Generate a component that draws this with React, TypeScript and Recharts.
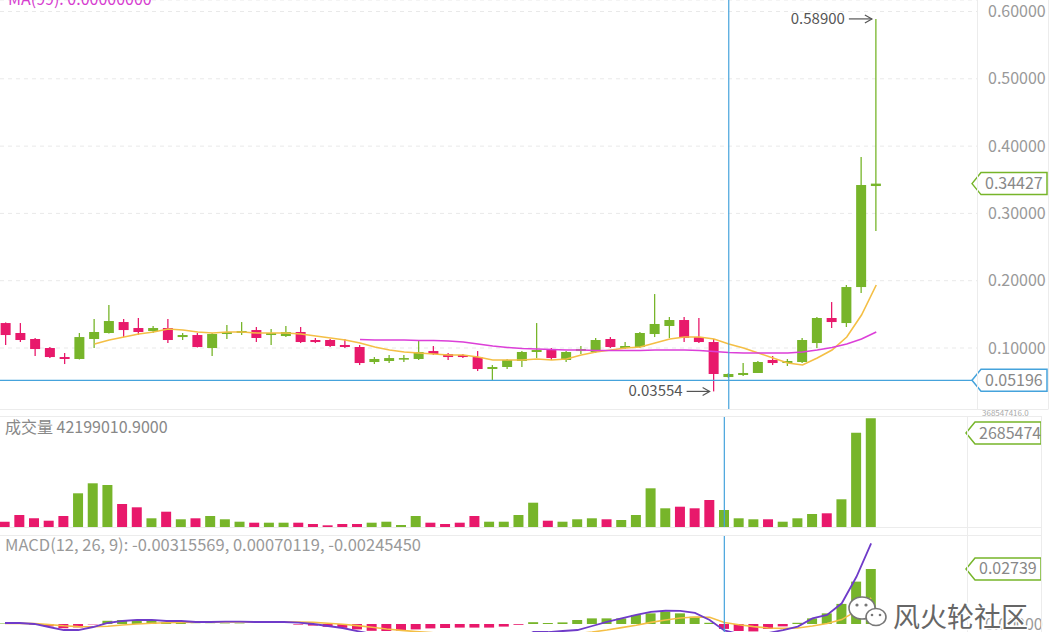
import { Bar, Cell, ComposedChart, Line, ReferenceLine, XAxis, YAxis, CartesianGrid } from "recharts";

const GREEN = "#77b52a";
const PINK = "#e8196b";
const BLUE = "#45a3dc";
const GRID = "#e9e9e9";
const FONT = "'Noto Sans CJK SC', 'Noto Sans', sans-serif";

// one candle per period, index 0..59
const opens = [
  0.1371, 0.1223, 0.1134, 0.1, 0.0866, 0.0837, 0.1134, 0.1223, 0.1386, 0.1297,
  0.1253, 0.1297, 0.1163, 0.1193, 0.1, 0.1208, 0.1223, 0.1267, 0.1193, 0.1178,
  0.1238, 0.1119, 0.1119, 0.1045, 0.1015, 0.0792, 0.0807, 0.0837, 0.0837, 0.0955,
  0.0911, 0.0896, 0.0866, 0.0688, 0.0718, 0.0807, 0.0941, 0.097, 0.0822, 0.0955,
  0.0941, 0.1134, 0.1, 0.1015, 0.1208, 0.1327, 0.1416, 0.1163, 0.1089, 0.0569,
  0.0599, 0.0629, 0.0822, 0.0777, 0.0792, 0.1074, 0.1446, 0.1371, 0.1906, 0.3407,
];
const highs = [
  0.138, 0.1371, 0.1149, 0.1015, 0.0926, 0.1223, 0.1431, 0.1639, 0.1431, 0.1446,
  0.1327, 0.1431, 0.1223, 0.1223, 0.1223, 0.1342, 0.1386, 0.1312, 0.1282, 0.1327,
  0.1312, 0.1149, 0.1134, 0.1134, 0.1045, 0.0866, 0.0896, 0.0896, 0.1104, 0.103,
  0.0926, 0.0911, 0.0955, 0.0747, 0.0837, 0.0955, 0.1371, 0.1, 0.0955, 0.103,
  0.1149, 0.1163, 0.1089, 0.1238, 0.1802, 0.1461, 0.1461, 0.1446, 0.1134, 0.0629,
  0.0777, 0.0807, 0.0881, 0.0837, 0.1149, 0.1461, 0.1683, 0.1936, 0.3838, 0.589,
];
const lows = [
  0.1045, 0.1089, 0.0881, 0.0851, 0.0762, 0.083, 0.1, 0.1215, 0.1163, 0.1193,
  0.1223, 0.1074, 0.1119, 0.1008, 0.0881, 0.1134, 0.1193, 0.1089, 0.1045, 0.1163,
  0.1074, 0.1074, 0.1015, 0.1, 0.0747, 0.0762, 0.0777, 0.0792, 0.0822, 0.0896,
  0.0822, 0.0851, 0.0658, 0.0525, 0.0688, 0.0718, 0.0851, 0.0822, 0.0792, 0.0911,
  0.0926, 0.1, 0.0985, 0.1, 0.1163, 0.1149, 0.1089, 0.1074, 0.03554, 0.0555,
  0.0584, 0.0629, 0.0747, 0.0733, 0.0777, 0.1, 0.1297, 0.1312, 0.1817, 0.2739,
];
const closes = [
  0.1193, 0.1119, 0.0985, 0.0866, 0.0837, 0.1163, 0.1238, 0.1401, 0.1267, 0.1238,
  0.1297, 0.1119, 0.1193, 0.1015, 0.1208, 0.1238, 0.1253, 0.1149, 0.1223, 0.1238,
  0.1089, 0.1089, 0.103, 0.1015, 0.0777, 0.0837, 0.0851, 0.0851, 0.0941, 0.0911,
  0.0866, 0.0866, 0.0688, 0.0718, 0.0822, 0.0941, 0.097, 0.0851, 0.0941, 0.0985,
  0.1119, 0.1015, 0.103, 0.1223, 0.1357, 0.1416, 0.1149, 0.1089, 0.0614, 0.0614,
  0.0629, 0.0792, 0.0777, 0.0807, 0.1119, 0.1446, 0.1386, 0.1906, 0.3422, 0.34427,
];
const ma7 = [
  null, null, null, null, null, null, 0.1059, 0.1119, 0.1163, 0.1208,
  0.1238, 0.1282, 0.1267, 0.1238, 0.1223, 0.1238, 0.1238, 0.1223, 0.1223, 0.1223,
  0.1208, 0.1178, 0.1149, 0.1119, 0.1074, 0.1015, 0.097, 0.0941, 0.0926, 0.0911,
  0.0896, 0.0896, 0.0866, 0.0822, 0.0822, 0.0822, 0.0837, 0.0822, 0.0837, 0.0896,
  0.0941, 0.097, 0.1, 0.1015, 0.1074, 0.1134, 0.1163, 0.1163, 0.1134, 0.1059,
  0.1, 0.0926, 0.0851, 0.0777, 0.0747, 0.0851, 0.097, 0.1163, 0.149, 0.1936,
];
const ma25 = [
  null, null, null, null, null, null, null, null, null, null,
  null, null, null, null, null, null, null, null, null, null,
  null, null, null, null, 0.1126, 0.1119, 0.1119, 0.1119, 0.1111, 0.1111,
  0.1104, 0.1089, 0.1059, 0.103, 0.1008, 0.0993, 0.0985, 0.0978, 0.097, 0.097,
  0.0963, 0.0963, 0.0963, 0.0963, 0.097, 0.097, 0.097, 0.0963, 0.0948, 0.0933,
  0.0926, 0.0926, 0.0926, 0.0926, 0.0941, 0.097, 0.1008, 0.1059, 0.1134, 0.1238,
];
// volume in millions
const volumes = [
  17.6, 39.8, 28.9, 20.9, 36.5, 111.9, 145.1, 139.4, 76.4, 65.4,
  28.9, 50.8, 25.6, 28.9, 36.5, 25.6, 17.6, 14.3, 14.3, 14.3,
  14.3, 10.0, 5.6, 10.0, 10.0, 14.3, 17.6, 6.6, 36.5, 14.3,
  10.0, 14.3, 36.5, 17.6, 17.6, 39.8, 80.7, 20.9, 17.6, 25.6,
  28.9, 25.6, 23.2, 39.8, 128.5, 62.1, 67.4, 62.1, 89.6, 56.4,
  28.9, 25.6, 25.6, 17.6, 28.9, 43.2, 45.5, 92.0, 313.1, 360.9,
];
const dif = [
  0.0005, 0.0005, 0, -0.0015, -0.003, -0.003, -0.0015, 0.0005, 0.0015, 0.002,
  0.002, 0.0015, 0.0015, 0.001, 0.001, 0.0012, 0.0012, 0.001, 0.001, 0.001,
  0.0007, 0, -0.001, -0.002, -0.0035, -0.005, -0.006, -0.0065, -0.0065, -0.0065,
  -0.0068, -0.007, -0.0075, -0.008, -0.0078, -0.007, -0.004, -0.004, -0.0035, -0.003,
  -0.001, 0.001, 0.0028, 0.0045, 0.006, 0.0066, 0.0065, 0.0055, 0.002, -0.0032,
  -0.005, -0.005, -0.0045, -0.003, -0.0013, 0.0028, 0.0045, 0.0103, 0.0235, 0.0401,
];
const dea = [
  0.0003, 0.0003, 0.0002, -0.0003, -0.0009, -0.0013, -0.0014, -0.0011, -0.0005, 0,
  0.0004, 0.0006, 0.0008, 0.0009, 0.0009, 0.001, 0.001, 0.001, 0.001, 0.001,
  0.001, 0.0008, 0.0004, -0.0001, -0.0008, -0.0016, -0.0025, -0.0032, -0.0038, -0.0043,
  -0.0048, -0.0052, -0.0057, -0.0062, -0.0065, -0.0066, -0.0061, -0.0057, -0.0052, -0.0048,
  -0.004, -0.003, -0.0018, -0.0006, 0.0008, 0.002, 0.003, 0.0035, 0.0033, 0.0007,
  -0.0004, -0.0013, -0.002, -0.0022, -0.002, -0.001, 0.0002, 0.0022, 0.0065, 0.013,
];
const hist = [
  0.0002, 0.0002, -0.0002, -0.0012, -0.0021, -0.0017, -0.0002, 0.0016, 0.002, 0.002,
  0.0016, 0.0009, 0.0007, 0.0001, 0.0001, 0.0002, 0.0002, 0, 0, 0,
  -0.0003, -0.0008, -0.0014, -0.0019, -0.0027, -0.0034, -0.0035, -0.0033, -0.0027, -0.0022,
  -0.002, -0.0018, -0.0018, -0.0018, -0.0013, -0.0004, 0.0009, 0.0005, 0.0008, 0.002,
  0.0028, 0.0028, 0.0028, 0.0045, 0.0053, 0.0062, 0.0053, 0.0036, 0.0006, -0.00245,
  -0.0035, -0.0037, -0.0025, -0.0012, 0.0006, 0.0028, 0.0053, 0.01, 0.0211, 0.02739,
];
const priceTicks = [0.1, 0.2, 0.3, 0.4, 0.5, 0.6];
const CROSS_INDEX = 49;
const CROSS_PRICE = 0.05196;

const maxIdx = highs.indexOf(Math.max(...highs));
const minIdx = lows.indexOf(Math.min(...lows));

const rows = opens.map((o, i) => ({
  i,
  o,
  h: highs[i],
  l: lows[i],
  c: closes[i],
  range: [lows[i], highs[i]],
  ma7: ma7[i],
  ma25: ma25[i],
  vol: volumes[i],
  dif: dif[i],
  dea: dea[i],
  hist: hist[i],
}));

function Marker({ x, y, text }) {
  return (
    <g>
      <text x={x - 31} y={y + 5} textAnchor="end" fontSize={15} fill="#555" fontFamily={FONT}>
        {text}
      </text>
      <line x1={x - 27} y1={y} x2={x - 4} y2={y} stroke="#555" strokeWidth={1.2} />
      <polyline points={`${x - 11},${y - 4} ${x - 4},${y} ${x - 11},${y + 4}`} fill="none" stroke="#555" strokeWidth={1.2} />
    </g>
  );
}

function Candle(props) {
  const { x, y, width, height, payload } = props;
  const { o, h, l, c, i } = payload;
  const top = Math.min(y, y + height);
  const span = Math.abs(height);
  const k = h > l ? span / (h - l) : 0;
  const py = (v) => top + (h - v) * k;
  const color = c >= o ? GREEN : PINK;
  const cx = x + width / 2;
  const bTop = py(Math.max(o, c));
  const bH = Math.max(py(Math.min(o, c)) - bTop, 1.6);
  return (
    <g>
      <line x1={cx} x2={cx} y1={top} y2={top + span} stroke={color} strokeWidth={1.3} />
      <rect x={x} y={bTop} width={width} height={bH} fill={color} />
      {i === maxIdx && <Marker x={cx} y={top} text={h.toFixed(5)} />}
      {i === minIdx && <Marker x={cx} y={top + span} text={l.toFixed(5)} />}
    </g>
  );
}

function Tag(props) {
  const { viewBox, text, color, inset } = props;
  if (!viewBox) return null;
  const xl = viewBox.x + viewBox.width - inset;
  const yy = viewBox.y;
  const xr = xl + 75;
  return (
    <g>
      <polygon
        points={`${xl},${yy} ${xl + 9},${yy - 11} ${xr},${yy - 11} ${xr},${yy + 11} ${xl + 9},${yy + 11}`}
        fill="#fff"
        stroke={color}
        strokeWidth={1.5}
      />
      <text x={xl + 13} y={yy + 5.5} fontSize={16} fill="#888" fontFamily={FONT}>
        {text}
      </text>
    </g>
  );
}

const tickStyle = { fill: "#999", fontSize: 16, fontFamily: FONT };

export default function App() {
  return (
    <div
      style={{
        position: "absolute",
        left: 0,
        top: 0,
        width: 1060,
        height: 632,
        overflow: "hidden",
        background: "#fff",
        fontFamily: FONT,
      }}
    >
      <div style={{ position: "absolute", left: 0, top: 0 }}>
        <ComposedChart width={1050} height={410} data={rows} margin={{ top: 0, right: 0, bottom: 0, left: 0 }}>
          <CartesianGrid vertical={false} stroke={GRID} strokeDasharray="4 4" />
          <XAxis type="number" dataKey="i" domain={[-0.407, 65.83]} hide allowDataOverflow />
          <YAxis
            orientation="right"
            width={73}
            domain={[0.0079, 0.6171]}
            ticks={priceTicks}
            allowDataOverflow
            axisLine={false}
            tickLine={false}
            tickMargin={5}
            tick={tickStyle}
            tickFormatter={(v) => v.toFixed(5)}
          />
          <Bar dataKey="range" barSize={10} shape={Candle} isAnimationActive={false} />
          <Line dataKey="ma7" stroke="#f4bf45" strokeWidth={1.6} dot={false} isAnimationActive={false} />
          <Line dataKey="ma25" stroke="#dc3fd8" strokeWidth={1.6} dot={false} isAnimationActive={false} />
          <ReferenceLine x={CROSS_INDEX} stroke={BLUE} strokeWidth={1.2} />
          <ReferenceLine y={CROSS_PRICE} stroke={BLUE} strokeWidth={1.2} label={<Tag text="0.05196" color={BLUE} inset={5} />} />
          <ReferenceLine y={closes[closes.length - 1]} stroke="none" label={<Tag text="0.34427" color={GREEN} inset={5} />} />
        </ComposedChart>
      </div>

      <div style={{ position: "absolute", left: 0, top: 416 }}>
        <ComposedChart width={1050} height={111} data={rows} margin={{ top: 0, right: 0, bottom: 0, left: 0 }}>
          <XAxis type="number" dataKey="i" domain={[-0.34, 65.53]} hide allowDataOverflow />
          <YAxis orientation="right" width={83} domain={[0, 368.55]} tick={false} axisLine={false} tickLine={false} />
          <Bar dataKey="vol" barSize={10} isAnimationActive={false}>
            {rows.map((r) => (
              <Cell key={r.i} fill={r.c >= r.o ? GREEN : PINK} />
            ))}
          </Bar>
          <ReferenceLine x={CROSS_INDEX} stroke={BLUE} strokeWidth={1.2} />
          <ReferenceLine y={312} stroke="none" label={<Tag text="2685474" color={GREEN} inset={1} />} />
        </ComposedChart>
      </div>

      <div style={{ position: "absolute", left: 0, top: 536 }}>
        <ComposedChart width={1050} height={150} data={rows} margin={{ top: 0, right: 0, bottom: 0, left: 0 }}>
          <XAxis type="number" dataKey="i" domain={[-0.34, 65.53]} hide allowDataOverflow />
          <YAxis
            orientation="right"
            width={83}
            domain={[-0.03088, 0.04382]}
            ticks={[0]}
            allowDataOverflow
            axisLine={false}
            tickLine={false}
            tickMargin={12}
            tick={tickStyle}
            tickFormatter={(v) => v.toFixed(5)}
          />
          <Bar dataKey="hist" barSize={10} isAnimationActive={false}>
            {rows.map((r) => (
              <Cell key={r.i} fill={r.hist >= 0 ? GREEN : PINK} />
            ))}
          </Bar>
          <Line dataKey="dea" stroke="#f4bf45" strokeWidth={1.6} dot={false} isAnimationActive={false} />
          <Line dataKey="dif" stroke="#6f3bc9" strokeWidth={1.8} dot={false} isAnimationActive={false} />
          <ReferenceLine x={CROSS_INDEX} stroke={BLUE} strokeWidth={1.2} />
          <ReferenceLine y={hist[hist.length - 1]} stroke="none" label={<Tag text="0.02739" color={GREEN} inset={1} />} />
        </ComposedChart>
      </div>

      <svg width={1060} height={632} style={{ position: "absolute", left: 0, top: 0, pointerEvents: "none" }}>
        <g stroke="#ececec" strokeWidth={1}>
          <line x1={0} y1={409.5} x2={1048} y2={409.5} />
          <line x1={0} y1={416.5} x2={1041} y2={416.5} />
          <line x1={0} y1={527.5} x2={1041} y2={527.5} />
          <line x1={0} y1={535.5} x2={1041} y2={535.5} />
          <line x1={977.5} y1={0} x2={977.5} y2={409.5} />
          <line x1={1048.5} y1={0} x2={1048.5} y2={409.5} />
          <line x1={967.5} y1={416} x2={967.5} y2={632} />
          <line x1={1041.5} y1={416} x2={1041.5} y2={632} />
        </g>
        <text x={8} y={5} fontSize={16} fill="#d63ccf" fontFamily={FONT}>
          MA(99): 0.00000000
        </text>
        <text x={5} y={433} fontSize={16} fill="#888" fontFamily={FONT}>
          成交量 42199010.9000
        </text>
        <text x={5} y={551} fontSize={16.5} fill="#999" fontFamily={FONT}>
          MACD(12, 26, 9): -0.00315569, 0.00070119, -0.00245450
        </text>
        <text x={982} y={415.5} fontSize={8} fill="#aaa" fontFamily={FONT}>
          368547416.0
        </text>
        <g>
          <ellipse cx={862} cy={608} rx={13} ry={11} fill="#fff" stroke="#777" strokeWidth={1.6} />
          <circle cx={857} cy={605} r={1.6} fill="#777" />
          <circle cx={866} cy={605} r={1.6} fill="#777" />
          <ellipse cx={876} cy={617} rx={10} ry={8.5} fill="#fff" stroke="#777" strokeWidth={1.6} />
          <circle cx={872} cy={615} r={1.3} fill="#777" />
          <circle cx={880} cy={615} r={1.3} fill="#777" />
          <text
            x={893}
            y={627}
            fontSize={27}
            fill="#666"
            stroke="#fff"
            strokeWidth={3}
            paintOrder="stroke"
            fontFamily={FONT}
          >
            风火轮社区
          </text>
        </g>
      </svg>
    </div>
  );
}
